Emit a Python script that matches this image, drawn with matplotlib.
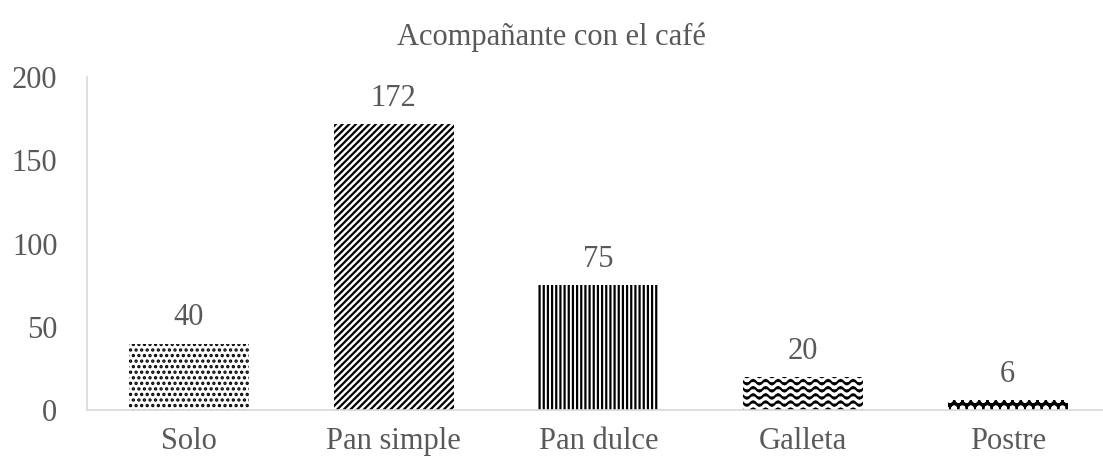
import warnings
import numpy as np
import matplotlib
matplotlib.use("Agg")
import matplotlib.pyplot as plt
from matplotlib import hatch as mhatch
from matplotlib.path import Path

warnings.filterwarnings("ignore")

categories = ["Solo", "Pan simple", "Pan dulce", "Galleta", "Postre"]
values = [40, 172, 75, 20, 6]
patterns = ["...", "/////", "||||", "~", "oo"]
title = "Acompañante con el café"


# wavy hatch, not built into matplotlib
class WavyHatch(mhatch.HatchPatternBase):
    def __init__(self, hatch, density):
        self.num_rows = 14 if "~" in hatch else 0
        self.pts = 65
        self.num_vertices = self.num_rows * self.pts

    def set_vertices_and_codes(self, vertices, codes):
        x = np.linspace(0, 1, self.pts)
        for i in range(self.num_rows):
            y = (i + 0.5) / self.num_rows + 0.022 * np.sin(2 * np.pi * 8 * x)
            vertices[i * self.pts:(i + 1) * self.pts] = np.column_stack([x, y])
            codes[i * self.pts] = Path.MOVETO
            codes[i * self.pts + 1:(i + 1) * self.pts] = Path.LINETO


mhatch._hatch_types.append(WavyHatch)

plt.rcParams["font.family"] = ["Liberation Serif", "DejaVu Serif"]
plt.rcParams["hatch.linewidth"] = 1.6
grey = "#595959"

fig = plt.figure(figsize=(11.03, 4.65), dpi=100)
ax = fig.add_axes([0.0785, 0.118, 0.928, 0.716])

for i, (c, v, p) in enumerate(zip(categories, values, patterns)):
    if p == "oo":
        b = ax.bar(i, v, width=0.586, color="black", edgecolor="white",
                   hatch=p, linewidth=0)
    else:
        b = ax.bar(i, v, width=0.586, color="white", edgecolor="black",
                   hatch=p, linewidth=0)
    ax.bar_label(b, padding=8, fontsize=22, color=grey)

ax.set_xlim(-0.5, 4.5)
ax.set_ylim(0, 200)
ax.set_yticks([0, 50, 100, 150, 200])
ax.set_xticks(range(len(categories)))
ax.set_xticklabels(categories)
ax.tick_params(axis="both", length=0, labelsize=22, labelcolor=grey)
ax.tick_params(axis="y", pad=21)
ax.tick_params(axis="x", pad=12)

for s in ["top", "right"]:
    ax.spines[s].set_visible(False)
ax.spines["left"].set_color("#d9d9d9")
ax.spines["bottom"].set_color("#d9d9d9")
ax.spines["left"].set_linewidth(1.2)
ax.spines["bottom"].set_linewidth(1.2)

fig.text(0.5, 0.92, title, ha="center", va="center", fontsize=22, color=grey)

fig.savefig("out.png", dpi=100)
